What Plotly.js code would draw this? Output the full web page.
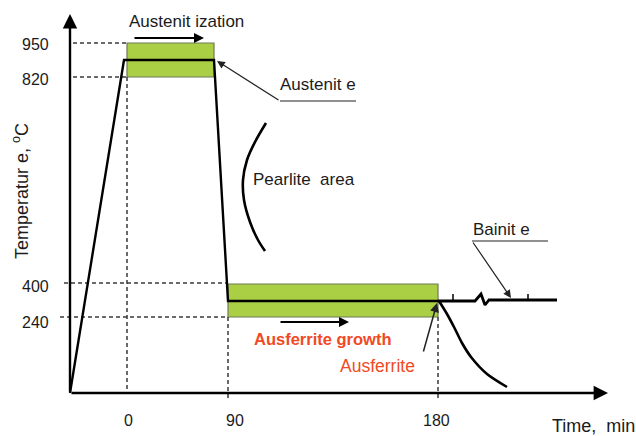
<!DOCTYPE html>
<html>
<head>
<meta charset="utf-8">
<script src="https://cdn.plot.ly/plotly-3.0.1.min.js"></script>
<style>html,body{margin:0;padding:0;background:#fff;}#chart{width:636px;height:436px;}</style>
</head>
<body>
<div id="chart"></div>
<script>
// Schematic heat-treatment diagram (austempering). Coordinates are in the
// schematic's own axis units (the original drawing has no linear scale).

// Tick labels and their schematic positions
const timeTickLabels = ['0', '90', '180'];
const timeTickPos    = [128, 235, 436];
const tempTickLabels = ['950', '820', '400', '240'];
const tempTickPos    = [44, 79, 286, 322];

// Guide positions for the dashed reference lines
const timeGuideX = [127, 228, 438];
const tempGuideY = [43, 77, 283, 317];

// Thermal profile: heating, austenitising hold, quench, austempering hold
const profileX = [70, 124, 214, 228, 438];
const profileY = [393, 60, 60, 301, 301];

// Bainite continuation (with break mark)
const bainiteX = [438, 475, 481, 485, 489, 557];
const bainiteY = [301, 301, 294, 305, 300, 300];
const bainiteTickX = [453, 453, null, 528, 528];
const bainiteTickY = [301, 294, null, 300, 294];

// Cooling curve after ausferrite hold
const coolX = [439, 447, 454, 462, 471, 487, 507];
const coolY = [301, 314, 327, 343, 357, 374, 387];

// Pearlite nose
const pearliteX = [266, 255, 247, 243, 244, 250, 258, 265];
const pearliteY = [123, 142, 160, 180, 200, 222, 240, 251];

// Process windows (rectangles)
const boxX0 = [127, 228];
const boxX1 = [214, 438];
const boxY0 = [43, 284];
const boxY1 = [77, 317];

const FONT = 'Liberation Sans, Arial, sans-serif';
const INK = '#1b1b1b';
const RED = '#f04a24';

const traces = [
  {x: profileX, y: profileY, mode: 'lines', line: {color: '#000', width: 2.4}, hoverinfo: 'skip'},
  {x: bainiteX, y: bainiteY, mode: 'lines', line: {color: '#000', width: 2.8}, hoverinfo: 'skip'},
  {x: bainiteTickX, y: bainiteTickY, mode: 'lines', line: {color: '#000', width: 1.5}, connectgaps: false, hoverinfo: 'skip'},
  {x: coolX, y: coolY, mode: 'lines', line: {color: '#000', width: 2.6, shape: 'spline', smoothing: 0.8}, hoverinfo: 'skip'},
  {x: pearliteX, y: pearliteY, mode: 'lines', line: {color: '#000', width: 2.6, shape: 'spline'}, hoverinfo: 'skip'},
  // leader lines
  {x: [356, 280], y: [101, 101], mode: 'lines', line: {color: '#222', width: 1.2}, hoverinfo: 'skip'},
  {x: [548, 472], y: [241, 241], mode: 'lines', line: {color: '#222', width: 1.2}, hoverinfo: 'skip'}
];

const shapes = [];
for (let i = 0; i < boxX0.length; i++) {
  shapes.push({type: 'rect', xref: 'x', yref: 'y', x0: boxX0[i], x1: boxX1[i], y0: boxY0[i], y1: boxY1[i],
    fillcolor: '#aacf45', line: {color: '#6f7a55', width: 1.2}, layer: 'below'});
}
const dash = {color: '#3a3a3a', width: 1.5, dash: '4px,3px'};
// horizontal guides
const hStart = [73, 73, 64, 60];
const hEnd = [127, 127, 228, 228];
tempGuideY.forEach((y, i) => shapes.push({type: 'line', xref: 'x', yref: 'y', x0: hStart[i], x1: hEnd[i], y0: y, y1: y, line: dash, layer: 'below'}));
// vertical guides
const vStart = [77, 317, 317];
const vEnd = [393, 401, 401];
timeGuideX.forEach((x, i) => shapes.push({type: 'line', xref: 'x', yref: 'y', x0: x, x1: x, y0: vStart[i], y1: vEnd[i], line: dash, layer: 'below'}));

function arrow(x0, y0, x1, y1, w, head, size, color) {
  return {x: x1, y: y1, ax: x0, ay: y0, xref: 'x', yref: 'y', axref: 'x', ayref: 'y',
    text: '', showarrow: true, arrowhead: head, arrowsize: size, arrowwidth: w,
    arrowcolor: color || '#000', standoff: 0, startstandoff: 0};
}
function label(x, y, text, opts) {
  opts = opts || {};
  return {x: x, y: y, xref: 'x', yref: 'y', text: text, showarrow: false,
    font: {family: FONT, size: opts.size || 15, color: opts.color || INK},
    xanchor: opts.xanchor || 'center', yanchor: 'middle', textangle: opts.angle || 0};
}

const annotations = [
  // axes
  arrow(70, 393, 70, 14, 2.4, 2, 1.2),
  arrow(70, 393, 608, 393, 2.4, 2, 1.2),
  // process arrows
  arrow(133, 38, 204, 38, 2, 2, 1),
  arrow(279, 322, 349, 322, 2, 2, 1),
  arrow(280, 101, 217, 61, 1.2, 2, 1.3, '#222'),
  arrow(472, 241, 511, 298, 1.2, 2, 1.3, '#222'),
  arrow(423, 353, 437, 303, 1.5, 2, 1.2, '#222'),
  // texts
  label(186, 21, 'Austenit ization', {size: 17}),
  label(318, 84, 'Austenit e', {size: 17}),
  label(304, 179, 'Pearlite  area', {size: 17}),
  label(501, 229, 'Bainit e', {size: 17}),
  label(323, 339, '<b>Ausferrite growth</b>', {size: 16.5, color: RED}),
  label(377, 366, 'Ausferrite', {size: 17.5, color: RED}),
  label(593, 426, 'Time,  min', {size: 18}),
  label(20, 191, 'Temperatur e, <sup>o</sup>C', {size: 18, angle: -90})
];
timeTickLabels.forEach((t, i) => annotations.push(label(timeTickPos[i], 420, t, {size: 16})));
tempTickLabels.forEach((t, i) => annotations.push(label(35, tempTickPos[i], t, {size: 16})));

const layout = {
  width: 636, height: 436,
  margin: {l: 0, r: 0, t: 0, b: 0},
  paper_bgcolor: '#fff', plot_bgcolor: '#fff',
  showlegend: false,
  xaxis: {range: [0, 636], visible: false, fixedrange: true},
  yaxis: {range: [436, 0], visible: false, fixedrange: true},
  shapes: shapes,
  annotations: annotations
};

Plotly.newPlot('chart', traces, layout, {staticPlot: true, displayModeBar: false});
</script>
</body>
</html>
